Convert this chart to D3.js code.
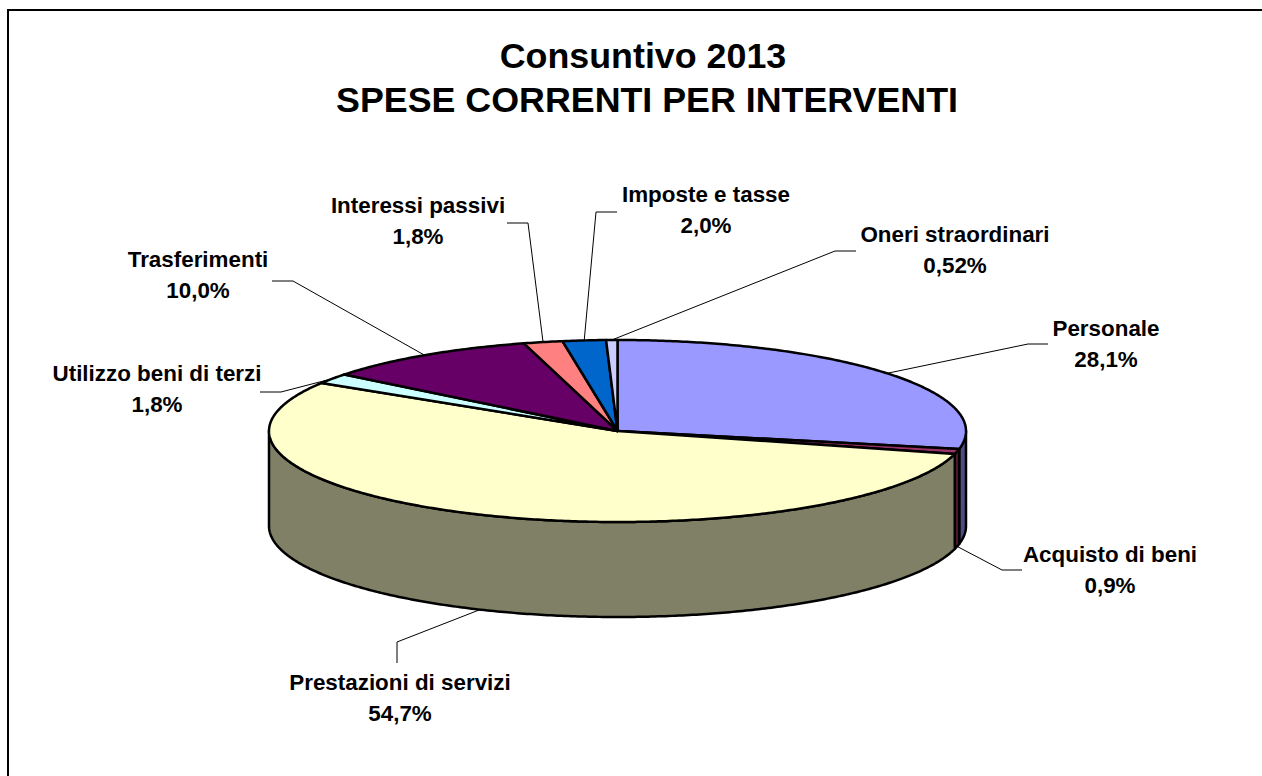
<!DOCTYPE html>
<html lang="it">
<head>
<meta charset="utf-8">
<title>Consuntivo 2013</title>
<script src="https://cdn.jsdelivr.net/npm/d3@7"></script>
<style>
  html, body { margin: 0; padding: 0; background: #fff; }
  svg { display: block; }
  text { font-family: "Liberation Sans", Arial, sans-serif; font-weight: 700; fill: #000; }
</style>
</head>
<body>
<svg id="chart" width="1262" height="776"></svg>
<script>
// Spending items and their shares, clockwise from twelve o'clock
const categories = ["Personale", "Acquisto di beni", "Prestazioni di servizi", "Utilizzo beni di terzi",
                    "Trasferimenti", "Interessi passivi", "Imposte e tasse", "Oneri straordinari"];
const shares = [28.1, 0.9, 54.7, 1.8, 10.0, 1.8, 2.0, 0.52];
const shareLabels = ["28,1%", "0,9%", "54,7%", "1,8%", "10,0%", "1,8%", "2,0%", "0,52%"];
const titleLines = ["Consuntivo 2013", "SPESE CORRENTI PER INTERVENTI"];

const topColors = ["#9999FF", "#993366", "#FFFFCC", "#CCFFFF", "#660066", "#FF8080", "#0066CC", "#CCCCFF"];
const wallColors = ["#4D4D80", "#4D1A33", "#808066", "#668080", "#330033", "#804040", "#003366", "#666680"];

// Label centre and first baseline, leader knee and leader end, per slice
const labelLayout = [
  { cx: 1106,  y: 336, knee: [1028, 344], end: [1048, 344], wall: false },
  { cx: 1110,  y: 562, knee: [1002, 570], end: [1022, 570], wall: true },
  { cx: 400,   y: 690, knee: [397, 642],  end: [397, 663],  wall: true },
  { cx: 157,   y: 381, knee: [281, 392],  end: [260, 392],  wall: false },
  { cx: 198,   y: 267, knee: [293, 281],  end: [272, 281],  wall: false },
  { cx: 418,   y: 213, knee: [528, 223],  end: [507, 223],  wall: false },
  { cx: 706,   y: 202, knee: [596, 212],  end: [617, 212],  wall: false },
  { cx: 955,   y: 242, knee: [835, 251],  end: [856, 251],  wall: false }
];

const width = 1262, height = 776;
const depth = 95;
const lineHeight = 30.5;

const svg = d3.select("#chart");
const x = d3.scaleLinear().domain([-1, 1]).range([269, 966]);
const y = d3.scaleLinear().domain([-1, 1]).range([340, 522]);

// Frame: only the top and left edges fall inside the page
svg.append("path")
  .attr("d", d3.line()([[8, height], [8, 10], [width, 10]]))
  .attr("fill", "none").attr("stroke", "#000").attr("stroke-width", 2);

// Title
svg.append("g").selectAll("text").data(titleLines).join("text")
  .attr("x", (d, i) => 643 + i * 4)
  .attr("y", (d, i) => 68 + i * 44)
  .attr("text-anchor", "middle")
  .attr("font-size", 35.8)
  .text(d => d);

const slices = d3.pie().sort(null).value(d => d)(shares);
const line = d3.line();
const project = (a, drop = 0) => [x(Math.sin(a)), y(-Math.cos(a)) + drop];
const sweep = (a0, a1, drop = 0) => {
  const n = Math.max(2, Math.ceil(Math.abs(a1 - a0) / 0.01));
  return d3.range(n + 1).map(i => project(a0 + (a1 - a0) * i / n, drop));
};

// Cylinder walls: only the front half of the rim is visible
const frontStart = Math.PI / 2, frontEnd = Math.PI * 1.5;
svg.append("g").selectAll("path")
  .data(slices.filter(s => s.startAngle < frontEnd && s.endAngle > frontStart))
  .join("path")
  .attr("d", s => {
    const a0 = Math.max(s.startAngle, frontStart), a1 = Math.min(s.endAngle, frontEnd);
    return line([...sweep(a0, a1), ...sweep(a1, a0, depth)]) + "Z";
  })
  .attr("fill", s => wallColors[s.index])
  .attr("stroke", "#000").attr("stroke-width", 2.5).attr("stroke-linejoin", "round");

// Top face
svg.append("g").selectAll("path").data(slices).join("path")
  .attr("d", s => line([[x(0), y(0)], ...sweep(s.startAngle, s.endAngle)]) + "Z")
  .attr("fill", s => topColors[s.index])
  .attr("stroke", "#000").attr("stroke-width", 2.5).attr("stroke-linejoin", "round");

// Leader lines, anchored on each slice's rim at its middle angle
svg.append("g").selectAll("path").data(slices).join("path")
  .attr("d", s => {
    const l = labelLayout[s.index];
    const mid = (s.startAngle + s.endAngle) / 2;
    return line([project(mid, l.wall ? depth : 0), l.knee, l.end]);
  })
  .attr("fill", "none").attr("stroke", "#000").attr("stroke-width", 1);

// Labels: name on the first line, share on the second
const labels = svg.append("g").selectAll("text").data(categories).join("text")
  .attr("text-anchor", "middle")
  .attr("font-size", 22.4);
labels.append("tspan")
  .attr("x", (d, i) => labelLayout[i].cx)
  .attr("y", (d, i) => labelLayout[i].y)
  .text(d => d);
labels.append("tspan")
  .attr("x", (d, i) => labelLayout[i].cx)
  .attr("y", (d, i) => labelLayout[i].y + lineHeight)
  .text((d, i) => shareLabels[i]);
</script>
</body>
</html>
